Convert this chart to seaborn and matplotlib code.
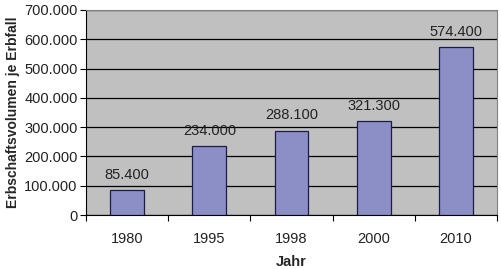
import pandas as pd
import seaborn as sns
import matplotlib.pyplot as plt
from matplotlib.ticker import FuncFormatter, FixedLocator

# Data
jahre = ["1980", "1995", "1998", "2000", "2010"]
volumen = [85400, 234000, 288100, 321300, 574400]

sns.set_theme(style="white")
plt.rcParams['font.family'] = ['Liberation Sans', 'DejaVu Sans']

df = pd.DataFrame({"Jahr": jahre, "Volumen": volumen})

fig = plt.figure(figsize=(5.01, 2.69), dpi=100)
ax = fig.add_axes([0.1717, 0.2007, 0.8203, 0.7623])

sns.barplot(data=df, x="Jahr", y="Volumen", color="#8c8fc6", width=0.41,
            edgecolor="#1c1c4a", linewidth=0.9, saturation=1, ax=ax, zorder=3)

ax.set_facecolor("#c0c0c0")
ax.set_ylim(0, 700000)
ax.set_xlim(-0.5, len(jahre) - 0.5)
ax.set_yticks(range(0, 700001, 100000))
fmt = lambda v, p: "0" if v == 0 else f"{int(v):,}".replace(",", ".")
ax.yaxis.set_major_formatter(FuncFormatter(fmt))
ax.yaxis.grid(True, color="black", linewidth=0.9, zorder=1)
ax.set_axisbelow(True)

for s in ax.spines.values():
    s.set_color("#808080")
    s.set_linewidth(0.8)
ax.spines['left'].set_color("black")
ax.spines['bottom'].set_color("black")

# value labels
for i, v in enumerate(volumen):
    ax.text(i, v + 28000, f"{v:,}".replace(",", "."), ha="center", va="bottom",
            fontsize=10.5, color="#222222")

ax.tick_params(axis="y", which="major", left=True, length=4, width=0.8, labelsize=10.5,
               colors="black", labelcolor="#222222", pad=2)
ax.tick_params(axis="x", which="major", bottom=False, labelsize=10.5,
               labelcolor="#222222", pad=6)
ax.xaxis.set_minor_locator(FixedLocator([i - 0.5 for i in range(len(jahre) + 1)]))
ax.tick_params(axis="x", which="minor", bottom=True, length=4, width=0.8, colors="black")

ax.set_xlabel("Jahr", fontsize=10.5, fontweight="bold", labelpad=7)
ax.set_ylabel("Erbschaftsvolumen je Erbfall", fontsize=10, fontweight="bold", labelpad=3)

fig.savefig("out.png", dpi=100)
